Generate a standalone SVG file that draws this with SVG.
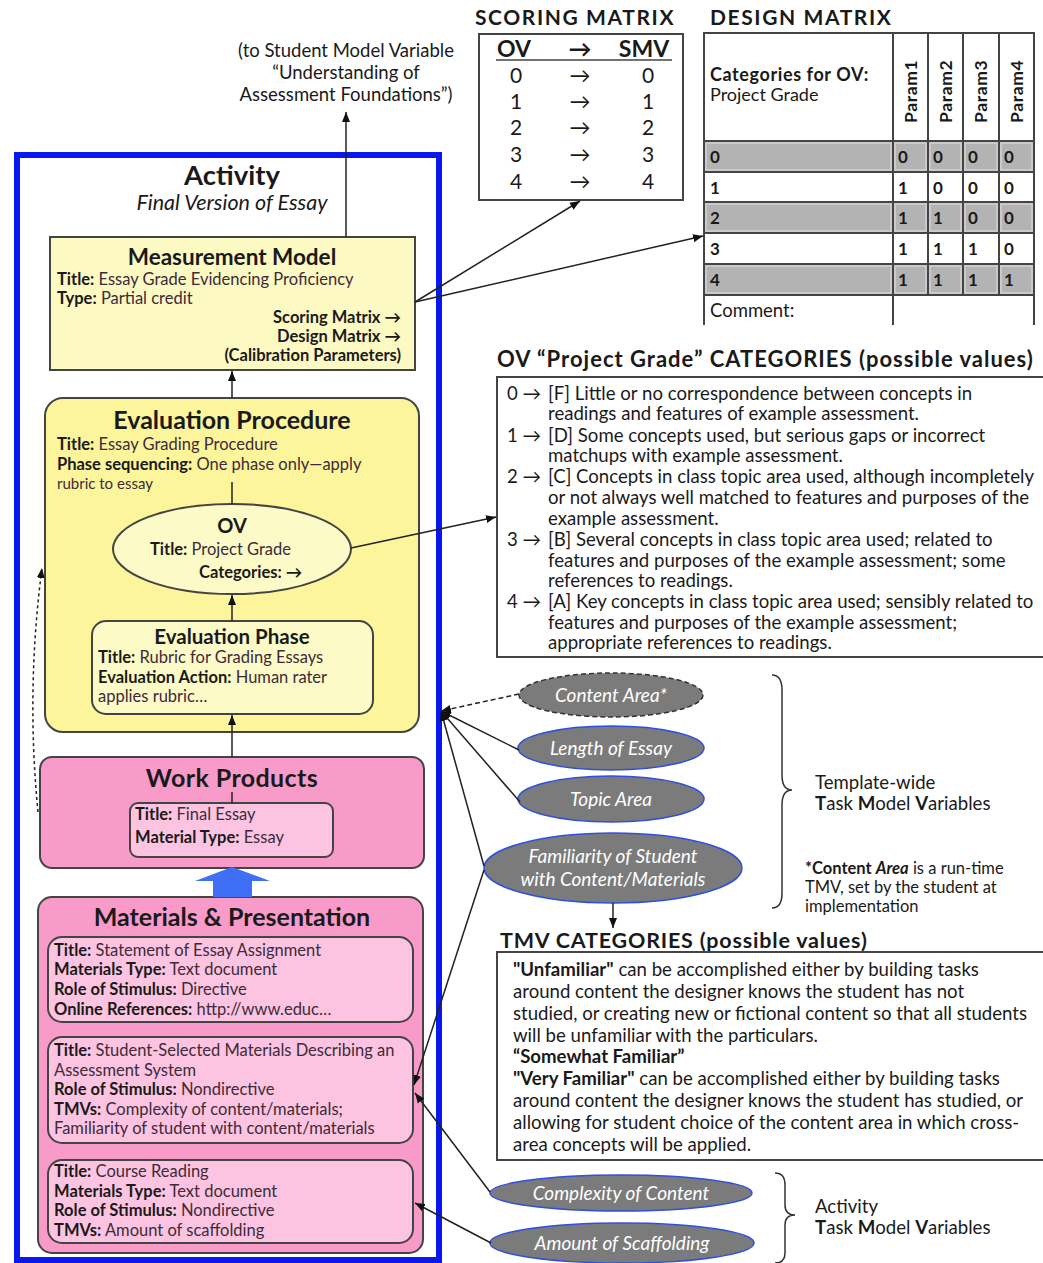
<svg xmlns="http://www.w3.org/2000/svg" width="1043" height="1263" viewBox="0 0 1043 1263">
<defs>
<marker id="ah" viewBox="0 0 10 10" refX="10" refY="5" markerWidth="10" markerHeight="10" orient="auto" markerUnits="userSpaceOnUse"><path d="M0,1 L10,5 L0,9 z" fill="#111"/></marker>
<style>
text{font-family:Lato,"Open Sans","Liberation Sans",sans-serif;fill:#1a1a1a}
.b{font-weight:bold}
.v{fill:#3d2b3a}
.s{font-size:16.5px}
.h{font-size:25px;font-weight:bold;text-anchor:middle}
.c{text-anchor:middle}
.ov{font-size:18.6px}
.hd{font-size:21px;font-weight:bold;letter-spacing:1.6px}
.ell{fill:#7b7b7b;stroke:#2f4fe0;stroke-width:1.5}
.et{fill:#fff;font-style:italic;font-size:19px;text-anchor:middle}
.conn{stroke:#222;stroke-width:1.5;fill:none}
.box{stroke:#444;stroke-width:2}
.grid{stroke:#444;stroke-width:2;fill:none}
</style>
</defs>
<rect width="1043" height="1263" fill="#fff"/>

<g id="student-model-note">
<text class="c" x="346" y="57" font-size="18.5">(to Student Model Variable</text>
<text class="c" x="346" y="79" font-size="18.5">“Understanding of</text>
<text class="c" x="346" y="101" font-size="18.5">Assessment Foundations”)</text>
</g>

<g id="activity">
<rect x="17" y="155" width="422" height="1105" fill="none" stroke="#0a18f0" stroke-width="6"/>
<text class="c b" x="232" y="185" font-size="27.5">Activity</text>
<text class="c" x="232" y="210" font-size="21.5" font-style="italic">Final Version of Essay</text>
</g>

<g id="measurement-model">
<rect class="box" x="50" y="237" width="365" height="133" fill="#fcf9c2"/>
<text class="c b" x="232" y="265" font-size="22.5">Measurement Model</text>
<text class="s" x="57" y="285"><tspan class="b">Title:</tspan><tspan class="v"> Essay Grade Evidencing Proficiency</tspan></text>
<text class="s" x="57" y="304"><tspan class="b">Type:</tspan><tspan class="v"> Partial credit</tspan></text>
<text class="s b" x="401" y="323" text-anchor="end">Scoring Matrix →</text>
<text class="s b" x="401" y="342" text-anchor="end">Design Matrix  →</text>
<text class="s b" x="401" y="361" text-anchor="end">(Calibration Parameters)</text>
</g>

<g id="evaluation-procedure">
<rect class="box" x="45" y="398" width="374" height="334" rx="18" fill="#fcf59c"/>
<text class="h" x="232" y="429">Evaluation Procedure</text>
<text class="s" x="57" y="450"><tspan class="b">Title:</tspan><tspan class="v"> Essay Grading Procedure</tspan></text>
<text class="s" x="57" y="470"><tspan class="b">Phase sequencing:</tspan><tspan class="v"> One phase only—apply</tspan></text>
<text class="v" x="57" y="489" font-size="15">rubric to essay</text>
</g>

<g id="ov">
<ellipse cx="232" cy="549" rx="119" ry="45" fill="#fcfac6" stroke="#444" stroke-width="2"/>
<text class="c b" x="232" y="533" font-size="20">OV</text>
<text class="s" x="150" y="555"><tspan class="b">Title:</tspan><tspan class="v"> Project Grade</tspan></text>
<text class="s b" x="199" y="578">Categories: →</text>
</g>

<g id="evaluation-phase">
<rect class="box" x="92" y="621" width="281" height="93" rx="14" fill="#fcfac6"/>
<text class="c b" x="232" y="644" font-size="20.5">Evaluation Phase</text>
<text class="s" x="98" y="663"><tspan class="b">Title:</tspan><tspan class="v"> Rubric for Grading Essays</tspan></text>
<text class="s" x="98" y="683"><tspan class="b">Evaluation Action:</tspan><tspan class="v"> Human rater</tspan></text>
<text class="s v" x="98" y="702">applies rubric…</text>
</g>

<g id="work-products">
<rect class="box" x="40" y="757" width="384" height="111" rx="12" fill="#f99bc9"/>
<text class="h" x="232" y="787" letter-spacing="0.4">Work Products</text>
<rect class="box" x="130" y="803" width="203" height="54" rx="8" fill="#fcc4e0"/>
<text class="s" x="135" y="820"><tspan class="b">Title:</tspan><tspan class="v"> Final Essay</tspan></text>
<text class="s" x="135" y="843"><tspan class="b">Material Type:</tspan><tspan class="v"> Essay</tspan></text>
</g>

<g id="materials-presentation">
<rect class="box" x="38" y="897" width="385" height="356" rx="14" fill="#f99bc9"/>
<text class="h" x="232" y="926">Materials &amp; Presentation</text>
<rect class="box" x="48" y="937" width="365" height="85" rx="14" fill="#fcc4e0"/>
<text class="s" x="54" y="956"><tspan class="b">Title:</tspan><tspan class="v"> Statement of Essay Assignment</tspan></text>
<text class="s" x="54" y="975"><tspan class="b">Materials Type:</tspan><tspan class="v">  Text document</tspan></text>
<text class="s" x="54" y="995"><tspan class="b">Role of Stimulus:</tspan><tspan class="v"> Directive</tspan></text>
<text class="s" x="54" y="1015"><tspan class="b">Online References:</tspan><tspan class="v"> http://www.educ…</tspan></text>
<rect class="box" x="48" y="1037" width="365" height="106" rx="14" fill="#fcc4e0"/>
<text class="s" x="54" y="1056"><tspan class="b">Title:</tspan><tspan class="v"> Student-Selected Materials Describing an</tspan></text>
<text class="s v" x="54" y="1076">Assessment System</text>
<text class="s" x="54" y="1095"><tspan class="b">Role of Stimulus:</tspan><tspan class="v"> Nondirective</tspan></text>
<text class="s" x="54" y="1115"><tspan class="b">TMVs:</tspan><tspan class="v"> Complexity of content/materials;</tspan></text>
<text class="s v" x="54" y="1134">Familiarity of student with content/materials</text>
<rect class="box" x="48" y="1160" width="365" height="83" rx="14" fill="#fcc4e0"/>
<text class="s" x="54" y="1177"><tspan class="b">Title:</tspan><tspan class="v"> Course Reading</tspan></text>
<text class="s" x="54" y="1197"><tspan class="b">Materials Type:</tspan><tspan class="v"> Text document</tspan></text>
<text class="s" x="54" y="1216"><tspan class="b">Role of Stimulus:</tspan><tspan class="v"> Nondirective</tspan></text>
<text class="s" x="54" y="1236"><tspan class="b">TMVs:</tspan><tspan class="v"> Amount of scaffolding</tspan></text>
</g>

<g id="scoring-matrix">
<text class="hd" x="475" y="25">SCORING MATRIX</text>
<rect class="box" x="479" y="34" width="204" height="166" fill="#fff"/>
<g font-size="23" class="b">
<text class="c" x="514" y="57">OV</text><text class="c" x="580" y="57">→</text><text class="c" x="644" y="57">SMV</text>
</g>
<line x1="496" y1="60" x2="672" y2="60" stroke="#444" stroke-width="1.5"/>
<g font-size="21">
<text class="c" x="516" y="83">0</text><text class="c" x="580" y="83">→</text><text class="c" x="648" y="83">0</text>
<text class="c" x="516" y="109">1</text><text class="c" x="580" y="109">→</text><text class="c" x="648" y="109">1</text>
<text class="c" x="516" y="135">2</text><text class="c" x="580" y="135">→</text><text class="c" x="648" y="135">2</text>
<text class="c" x="516" y="162">3</text><text class="c" x="580" y="162">→</text><text class="c" x="648" y="162">3</text>
<text class="c" x="516" y="189">4</text><text class="c" x="580" y="189">→</text><text class="c" x="648" y="189">4</text>
</g>
</g>

<g id="design-matrix">
<text class="hd" x="710" y="25">DESIGN MATRIX</text>
<g fill="#b3b3b3" stroke="#cacaca" stroke-width="2">
<rect x="706" y="143" width="185" height="27"/><rect x="895" y="143" width="31" height="27"/><rect x="930" y="143" width="31" height="27"/><rect x="965" y="143" width="32" height="27"/><rect x="1001" y="143" width="31" height="27"/>
<rect x="706" y="204" width="185" height="27"/><rect x="895" y="204" width="31" height="27"/><rect x="930" y="204" width="31" height="27"/><rect x="965" y="204" width="32" height="27"/><rect x="1001" y="204" width="31" height="27"/>
<rect x="706" y="266" width="185" height="27"/><rect x="895" y="266" width="31" height="27"/><rect x="930" y="266" width="31" height="27"/><rect x="965" y="266" width="32" height="27"/><rect x="1001" y="266" width="31" height="27"/>
</g>
<path class="grid" d="M704,325 V33 H1034 V325 M893,33 V325 M928,33 V295 M963,33 V295 M999,33 V295 M704,141 H1034 M704,172 H1034 M704,202 H1034 M704,233 H1034 M704,264 H1034 M704,295 H1034"/>
<text class="b" x="710" y="81" font-size="18" letter-spacing="0.6">Categories for OV:</text>
<text x="710" y="101" font-size="18" fill="#3b3b6e">Project Grade</text>
<g class="b" font-size="17.5" letter-spacing="0.6">
<text transform="translate(917,123) rotate(-90)">Param1</text>
<text transform="translate(952,123) rotate(-90)">Param2</text>
<text transform="translate(987,123) rotate(-90)">Param3</text>
<text transform="translate(1023,123) rotate(-90)">Param4</text>
</g>
<g font-size="17" class="b">
<text x="710" y="163">0</text><text x="898" y="163">0</text><text x="933" y="163">0</text><text x="968" y="163">0</text><text x="1004" y="163">0</text>
<text x="710" y="194">1</text><text x="898" y="194">1</text><text x="933" y="194">0</text><text x="968" y="194">0</text><text x="1004" y="194">0</text>
<text x="710" y="224">2</text><text x="898" y="224">1</text><text x="933" y="224" fill="#5a2a1a">1</text><text x="968" y="224">0</text><text x="1004" y="224">0</text>
<text x="710" y="255">3</text><text x="898" y="255">1</text><text x="933" y="255" fill="#5a2a1a">1</text><text x="968" y="255" fill="#2a4a6a">1</text><text x="1004" y="255">0</text>
<text x="710" y="286">4</text><text x="898" y="286">1</text><text x="933" y="286" fill="#5a2a1a">1</text><text x="968" y="286" fill="#2a4a6a">1</text><text x="1004" y="286" fill="#2a4a6a">1</text>
</g>
<text x="710" y="317" font-size="18.5">Comment:</text>
</g>

<g id="ov-categories">
<text class="b" x="497" y="367" font-size="22" letter-spacing="1">OV “Project Grade” CATEGORIES (possible values)</text>
<rect class="box" x="497" y="377" width="560" height="280" fill="#fff"/>
<g class="ov">
<text x="507" y="400">0 →</text><text x="548" y="400">[F] Little or no correspondence between concepts in</text>
<text x="548" y="420">readings and features of example assessment.</text>
<text x="507" y="442">1 →</text><text x="548" y="442">[D] Some concepts used, but serious gaps or incorrect</text>
<text x="548" y="462">matchups with example assessment.</text>
<text x="507" y="483">2 →</text><text x="548" y="483">[C] Concepts in class topic area used, although incompletely</text>
<text x="548" y="504">or not always well matched to features and purposes of the</text>
<text x="548" y="525">example assessment.</text>
<text x="507" y="546">3 →</text><text x="548" y="546">[B] Several concepts in class topic area used; related to</text>
<text x="548" y="567">features and purposes of the example assessment; some</text>
<text x="548" y="587">references to readings.</text>
<text x="507" y="608">4 →</text><text x="548" y="608">[A] Key concepts in class topic area used; sensibly related to</text>
<text x="548" y="629">features and purposes of the example assessment;</text>
<text x="548" y="649">appropriate references to readings.</text>
</g>
</g>

<g id="tmv-content-area">
<ellipse cx="611" cy="695" rx="92" ry="22" fill="#7b7b7b" stroke="#333" stroke-width="1.5" stroke-dasharray="5,3"/>
<text class="et" x="611" y="702">Content Area*</text>
</g>
<g id="tmv-length-of-essay">
<ellipse class="ell" cx="611" cy="748" rx="93" ry="22"/>
<text class="et" x="611" y="755">Length of Essay</text>
</g>
<g id="tmv-topic-area">
<ellipse class="ell" cx="611" cy="799" rx="93" ry="23"/>
<text class="et" x="611" y="806">Topic Area</text>
</g>
<g id="tmv-familiarity">
<ellipse class="ell" cx="613" cy="868" rx="129" ry="35"/>
<text class="et" x="613" y="863">Familiarity of Student</text>
<text class="et" x="613" y="886">with Content/Materials</text>
</g>
<g id="tmv-complexity">
<ellipse class="ell" cx="621" cy="1193" rx="131" ry="18"/>
<text class="et" x="621" y="1200">Complexity of Content</text>
</g>
<g id="tmv-scaffolding">
<ellipse class="ell" cx="622" cy="1243" rx="132" ry="20"/>
<text class="et" x="622" y="1250">Amount of Scaffolding</text>
</g>

<g id="template-wide-label">
<path d="M772,675 Q782,675 782,690 L782,775 Q782,790 792,790 Q782,790 782,805 L782,893 Q782,908 772,908" fill="none" stroke="#333" stroke-width="1.5"/>
<text x="815" y="789" font-size="18.6">Template-wide</text>
<text x="815" y="810" font-size="18.6"><tspan class="b">T</tspan>ask <tspan class="b">M</tspan>odel <tspan class="b">V</tspan>ariables</text>
<text x="805" y="874" font-size="16.5"><tspan class="b">*Content </tspan><tspan class="b" font-style="italic">Area</tspan> is a run-time</text>
<text x="805" y="893" font-size="16.5">TMV, set by the student at</text>
<text x="805" y="912" font-size="16.5">implementation</text>
</g>

<g id="tmv-categories">
<text class="b" x="500" y="948" font-size="21.5" letter-spacing="0.8">TMV CATEGORIES (possible values)</text>
<rect class="box" x="497" y="952" width="560" height="208" fill="#fff"/>
<g class="ov">
<text x="513" y="976"><tspan class="b">"Unfamiliar"</tspan> can be accomplished either by building tasks</text>
<text x="513" y="998">around content the designer knows the student has not</text>
<text x="513" y="1020">studied, or creating new or fictional content so that all students</text>
<text x="513" y="1042">will be unfamiliar with the particulars.</text>
<text x="513" y="1063" class="b">“Somewhat Familiar”</text>
<text x="513" y="1085"><tspan class="b">"Very Familiar"</tspan> can be accomplished either by building tasks</text>
<text x="513" y="1107">around content the designer knows the student has studied, or</text>
<text x="513" y="1129">allowing for student choice of the content area in which cross-</text>
<text x="513" y="1151">area concepts will be applied.</text>
</g>
</g>

<g id="activity-tmv-label">
<path d="M775,1173 Q785,1173 785,1185 L785,1205 Q785,1215 795,1215 Q785,1215 785,1225 L785,1253 Q785,1263 775,1263" fill="none" stroke="#333" stroke-width="1.5"/>
<text x="815" y="1213" font-size="18.6">Activity</text>
<text x="815" y="1234" font-size="18.6"><tspan class="b">T</tspan>ask <tspan class="b">M</tspan>odel <tspan class="b">V</tspan>ariables</text>
</g>

<g id="connectors">
<line class="conn" x1="346" y1="237" x2="346" y2="112" marker-end="url(#ah)"/>
<line class="conn" x1="232" y1="398" x2="232" y2="371" marker-end="url(#ah)"/>
<line class="conn" x1="232" y1="482" x2="232" y2="504"/>
<line class="conn" x1="232" y1="621" x2="232" y2="595" marker-end="url(#ah)"/>
<line class="conn" x1="232" y1="757" x2="232" y2="715" marker-end="url(#ah)"/>
<line class="conn" x1="232" y1="792" x2="232" y2="803"/>
<polygon points="232,867 270,881 252,881 252,897 213,897 213,881 195,881" fill="#3f6ff6"/>
<path class="conn" d="M38,812 Q26,690 42,568" stroke-dasharray="3,3" marker-end="url(#ah)"/>
<line class="conn" x1="415" y1="302" x2="580" y2="201" marker-end="url(#ah)"/>
<line class="conn" x1="415" y1="302" x2="703" y2="236" marker-end="url(#ah)"/>
<line class="conn" x1="351" y1="548" x2="496" y2="517" marker-end="url(#ah)"/>
<line class="conn" x1="519" y1="694" x2="441" y2="711" stroke-dasharray="5,3" marker-end="url(#ah)"/>
<line class="conn" x1="519" y1="750" x2="441" y2="711" marker-end="url(#ah)"/>
<line class="conn" x1="520" y1="802" x2="441" y2="711" marker-end="url(#ah)"/>
<line class="conn" x1="484" y1="866" x2="441" y2="711" marker-end="url(#ah)"/>
<line class="conn" x1="484" y1="870" x2="414" y2="1085" marker-end="url(#ah)"/>
<line class="conn" x1="490" y1="1192" x2="415" y2="1093" marker-end="url(#ah)"/>
<line class="conn" x1="491" y1="1243" x2="415" y2="1203" marker-end="url(#ah)"/>
<line class="conn" x1="613" y1="903" x2="613" y2="928" marker-end="url(#ah)"/>
</g>
</svg>
